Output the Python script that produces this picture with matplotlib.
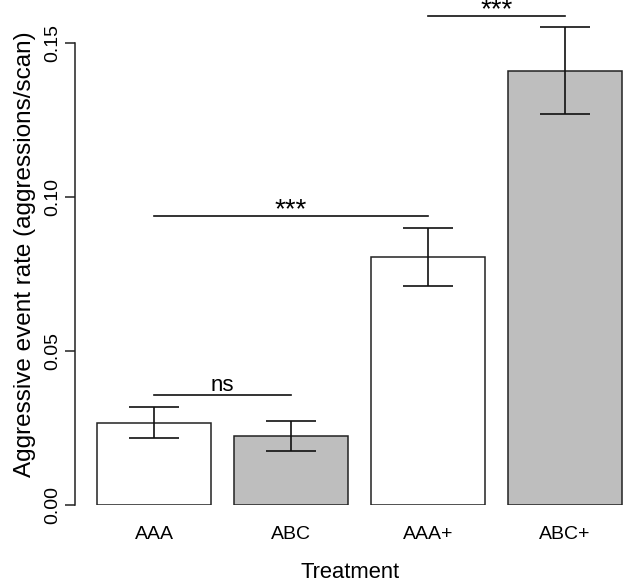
import matplotlib
matplotlib.use('Agg')
import matplotlib.pyplot as plt
import numpy as np

plt.rcParams['font.family'] = ['Liberation Sans', 'DejaVu Sans']

# data
treatments = ['AAA', 'ABC', 'AAA+', 'ABC+']
rates = [0.0268, 0.0224, 0.0807, 0.1411]
err_low = [0.0217, 0.0175, 0.0713, 0.1271]
err_high = [0.0318, 0.0273, 0.0899, 0.1552]
bar_colors = ['white', '#bebebe', 'white', '#bebebe']
# significance brackets: (from bar, to bar, height, label)
brackets = [(0, 1, 0.0358, 'ns'), (0, 2, 0.0939, '***'), (2, 3, 0.1589, '***')]

# R barplot positions: width 1, space 0.2
x = 0.7 + 1.2 * np.arange(len(treatments))

fig = plt.figure(figsize=(6.25, 5.81), dpi=100)
ax = fig.add_axes([0.12, 0.1308, 0.88, 0.8633])

ax.bar(x, rates, width=1.0, color=bar_colors, edgecolor='#222222', linewidth=1.1, zorder=2)
yerr = [np.array(rates) - np.array(err_low), np.array(err_high) - np.array(rates)]
ax.errorbar(x, rates, yerr=yerr, fmt='none', ecolor='#111111', elinewidth=1.2,
            capsize=18, capthick=1.2, zorder=3)

for i, j, h, lab in brackets:
    ax.plot([x[i], x[j]], [h, h], color='#111111', lw=1.2, clip_on=False)
    if lab == 'ns':
        ax.text((x[i] + x[j]) / 2, h + 0.0013, lab, ha='center', va='baseline', fontsize=16)
    else:
        # asterisks sit high in the em box
        ax.text((x[i] + x[j]) / 2, h - 0.0004, lab, ha='center', va='baseline', fontsize=20)

ax.set_xlim(0.0072, 4.826)
ax.set_ylim(0, 0.163)

for s in ['top', 'right', 'bottom']:
    ax.spines[s].set_visible(False)
ax.spines['left'].set_bounds(0, 0.15)
ax.spines['left'].set_linewidth(1.1)
ax.spines['left'].set_color('#222222')

ax.set_yticks([0.0, 0.05, 0.10, 0.15])
ax.set_yticklabels(['0.00', '0.05', '0.10', '0.15'], rotation=90, va='center')
ax.tick_params(axis='y', length=7, width=1.1, color='#222222', labelsize=14, pad=3)

ax.set_xticks(x)
ax.set_xticklabels(treatments)
ax.tick_params(axis='x', length=0, labelsize=14, pad=15)

ax.set_xlabel('Treatment', fontsize=15.8, labelpad=14)
ax.set_ylabel('Aggressive event rate (aggressions/scan)', fontsize=17.5, labelpad=6)

fig.savefig('out.png', dpi=100)
